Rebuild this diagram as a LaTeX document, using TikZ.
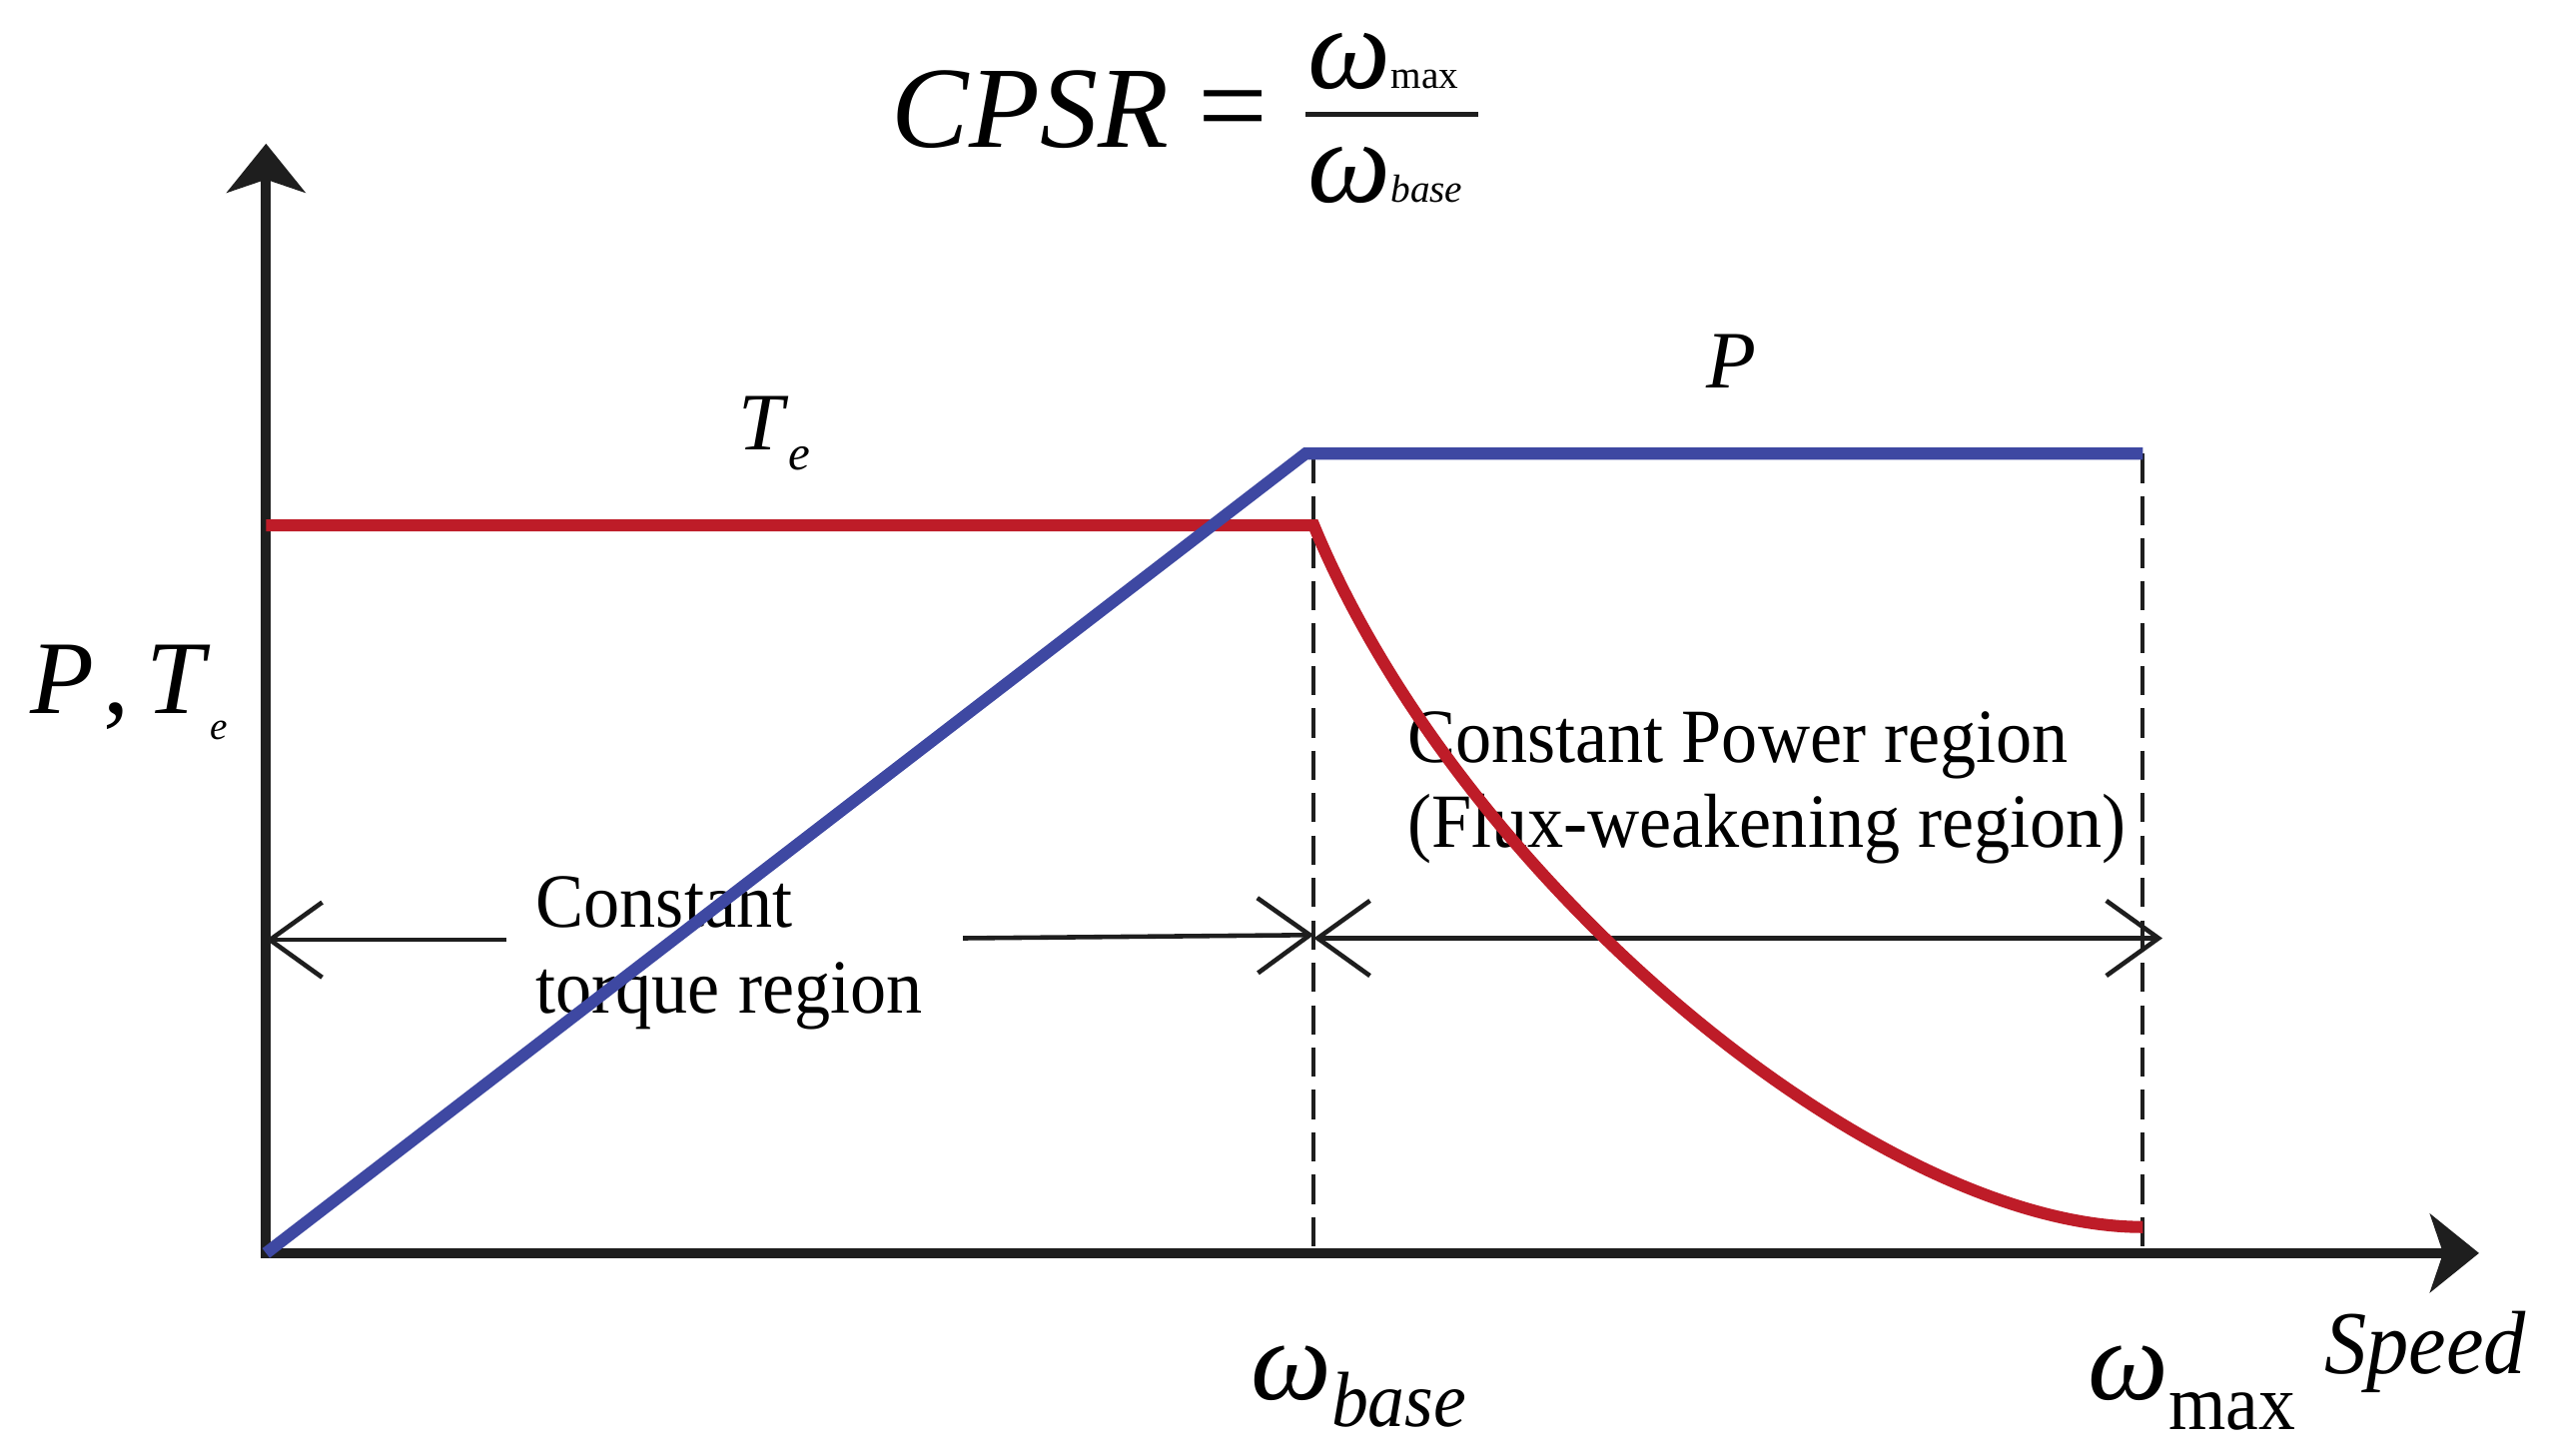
\documentclass[tikz,border=0pt]{standalone}
\usepackage{fontspec}
\setmainfont{Liberation Serif}
\newfontfamily\condserif[FakeStretch=0.94]{Liberation Serif}
\usetikzlibrary{arrows.meta}
\definecolor{tred}{RGB}{190,28,40}
\definecolor{pblue}{RGB}{62,72,162}
\definecolor{axk}{RGB}{30,30,30}
\begin{document}
\begin{tikzpicture}[x=0.5pt,y=-0.5pt,
  axisline/.style={line width=3.1pt, draw=axk, -{Stealth[length=15pt,width=24pt,inset=4pt]}},
  tline/.style={line width=3.7pt, draw=tred, line join=miter},
  pline/.style={line width=3.7pt, draw=pblue, line join=miter},
  dashline/.style={line width=1.2pt, draw=axk, dash pattern=on 9pt off 4pt},
  dblarrow/.style={line width=1.4pt, draw=axk, {Straight Barb[length=16pt,width=23pt]}-{Straight Barb[length=16pt,width=23pt]}},
  larrow/.style={line width=1.4pt, draw=axk, {Straight Barb[length=16pt,width=23pt]}-},
  rarrow/.style={line width=1.4pt, draw=axk, -{Straight Barb[length=16pt,width=23pt]}},
  region/.style={inner sep=0pt, anchor=base west, font=\condserif\fontsize{23.5}{26}\selectfont},
  lbl/.style={inner sep=0pt, anchor=base west}
]
\useasboundingbox (0,0) rectangle (1568,892);

% texts
\node[region] (ct1) at (328,568) {Constant};
\node[region] (ct2) at (328,621) {torque region};
\node[region] (cp1) at (862,467) {Constant Power region};
\node[region] (cp2) at (862,519) {(Flux-weakening region)};

\node[lbl] (te) at (452,276) {\fontsize{25}{25}\selectfont\textit{T}\raisebox{-6pt}{\fontsize{15}{15}\selectfont\textit{e}}};
\node[lbl] (pl) at (1045,238) {\fontsize{25}{25}\selectfont\textit{P}};
\node[lbl] (yl) at (18,437) {\fontsize{32}{32}\selectfont\textit{P}\hspace{3pt},\hspace{5pt}\textit{T}\raisebox{-8pt}{\fontsize{12}{12}\selectfont\textit{e}}};
\node[lbl] (wb) at (766,858) {\fontsize{35}{35}\selectfont\textit{ω}\raisebox{-8pt}{\condserif\fontsize{24}{24}\selectfont\textit{base}}};
\node[lbl] (wm) at (1279,858) {\fontsize{35}{35}\selectfont\textit{ω}\raisebox{-9pt}{\condserif\fontsize{24}{24}\selectfont max}};
\node[lbl] (sp) at (1424,842) {\condserif\fontsize{27.5}{27.5}\selectfont\textit{Speed}};

% formula
\node[lbl] (cpsr) at (546,90) {\fontsize{35.5}{35.5}\selectfont\textit{CPSR}\hspace{9pt}{\fontsize{38}{38}\selectfont=}};
\node[lbl] (num) at (801,54) {\fontsize{36}{36}\selectfont\textit{ω}\fontsize{12}{12}\selectfont max};
\node[lbl] (den) at (801,124) {\fontsize{36}{36}\selectfont\textit{ω}\fontsize{12}{12}\selectfont\textit{base}};
\coordinate (fb1) at (800,70);
\coordinate (fb2) at (906,70);
\draw[line width=1.4pt, draw=axk] (fb1) -- (fb2);

% axes
\coordinate (O) at (163,768);
\coordinate (Ytop) at (163,88);
\coordinate (Xend) at (1519,768);
\draw[axisline] ([yshift=-1.5pt]O) -- (Ytop);
\draw[axisline] ([xshift=-1.5pt]O) -- (Xend);

% dashed guides
\coordinate (bT) at (805,278);
\coordinate (bB) at (805,768);
\coordinate (mT) at (1313,278);
\coordinate (mB) at (1313,768);
\draw[dashline] (bT) -- (bB);
\draw[dashline] (mT) -- (mB);

% region arrows
\coordinate (la) at (163,576);
\coordinate (lg1) at (310,576);
\coordinate (lg2) at (590,575);
\coordinate (lb) at (805,573);
\coordinate (ra) at (805,575);
\coordinate (rb) at (1325,575);
\draw[larrow] (la) -- (lg1);
\draw[rarrow] (lg2) -- (lb);
\draw[dblarrow] (ra) -- (rb);

% torque curve
\coordinate (t0) at (163,322);
\coordinate (t1) at (805,322);
\coordinate (t2) at (1313,752);
\draw[tline] (t0) -- (t1) .. controls (895,540) and (1150,752) .. (t2);

% power curve
\coordinate (p1) at (800,278);
\coordinate (p2) at (1313,278);
\draw[pline] (O) -- (p1) -- (p2);
\end{tikzpicture}
\end{document}
